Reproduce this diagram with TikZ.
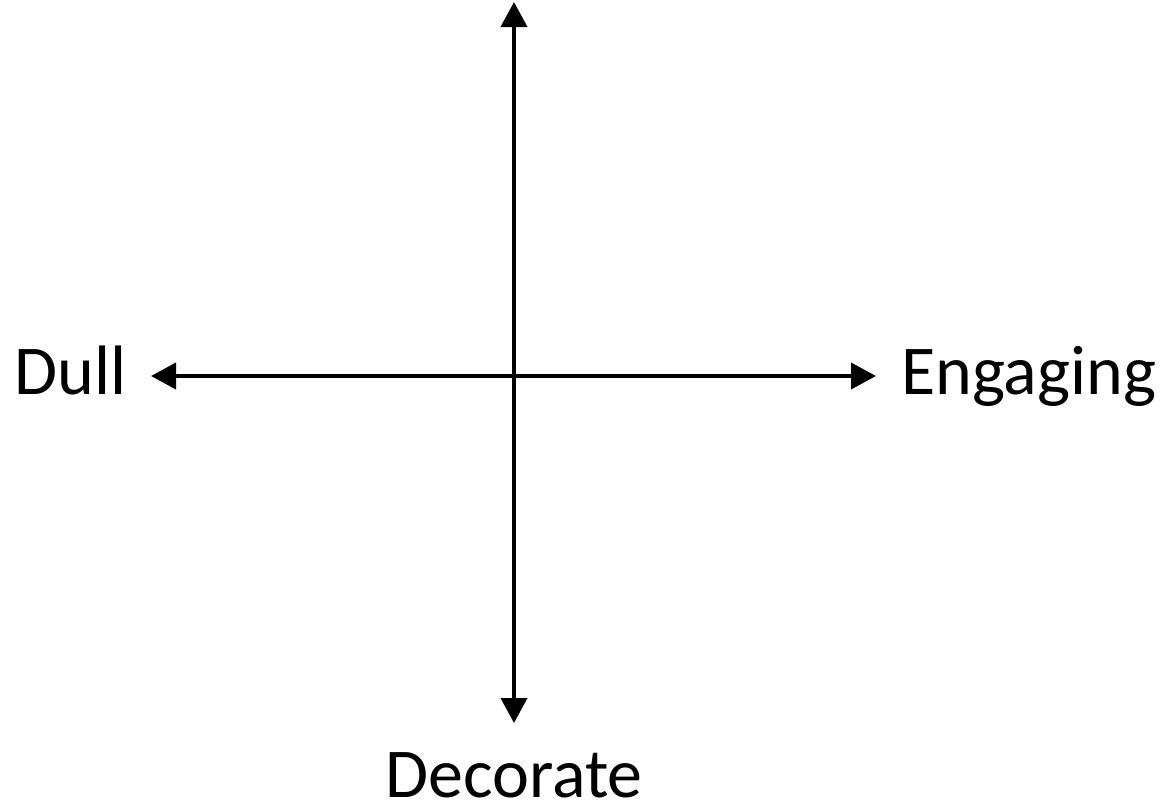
\documentclass[tikz,border=0pt]{standalone}
\usepackage{fontspec}
\setmainfont{Carlito}
\usetikzlibrary{arrows.meta}
\begin{document}
\begin{tikzpicture}[x=1pt,y=-1pt,
  axis/.style={line width=4pt,{Triangle[width=26pt,length=25pt]}-{Triangle[width=26pt,length=25pt]}},
  lbl/.style={inner sep=0pt,font=\fontsize{70}{84}\selectfont}]
\useasboundingbox (0,0) rectangle (1169,806);
\coordinate (top) at (514,2);
\coordinate (bot) at (514,723);
\coordinate (lft) at (151,376);
\coordinate (rgt) at (876,376);
\draw[axis] (top) -- (bot);
\draw[axis] (lft) -- (rgt);
\node[lbl,anchor=base east] (dull) at (127,394) {Dull};
\node[lbl,anchor=base west] (eng) at (901,394) {Engaging};
\node[lbl,anchor=base] (dec) at (514,797) {Decorate};
\end{tikzpicture}
\end{document}
